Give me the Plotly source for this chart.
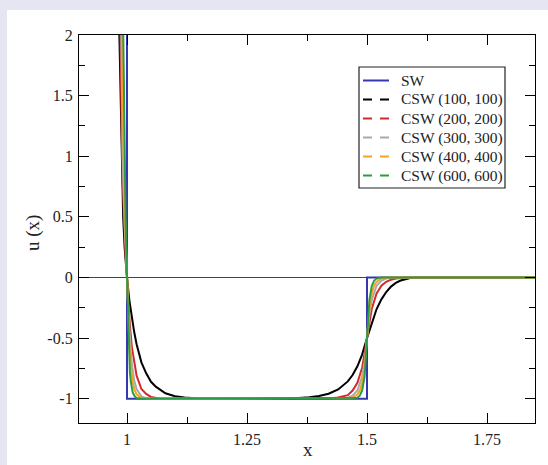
import plotly.graph_objects as go

# ---------------- data ----------------
sw_x = [1.0, 1.0, 1.5, 1.5, 1.85]
sw_y = [2.4, -1.0, -1.0, 0.0, 0.0]

csw100_x = [0.982, 0.984, 0.985, 0.987, 0.989, 0.992, 0.995, 0.998, 1.0,
            1.005, 1.01, 1.015, 1.02, 1.03, 1.04, 1.05, 1.06, 1.08, 1.10, 1.12, 1.15,
            1.35, 1.38, 1.40, 1.42, 1.44, 1.46, 1.47, 1.48, 1.49, 1.50,
            1.51, 1.52, 1.53, 1.54, 1.55, 1.56, 1.57, 1.58, 1.59, 1.60, 1.85]
csw100_y = [2.4, 2.0, 1.6, 1.2, 0.85, 0.5, 0.25, 0.08, 0.0,
            -0.19, -0.33, -0.45, -0.55, -0.70, -0.79, -0.86, -0.90, -0.955, -0.979, -0.99, -0.997,
            -0.995, -0.988, -0.978, -0.959, -0.923, -0.857, -0.804, -0.732, -0.634, -0.5,
            -0.37, -0.26, -0.18, -0.12, -0.075, -0.045, -0.025, -0.012, -0.005, 0.0, 0.0]

csw200_x = [0.985, 0.986, 0.987, 0.989, 0.991, 0.994, 0.997, 1.0,
            1.003, 1.006, 1.01, 1.015, 1.02, 1.03, 1.04, 1.05, 1.06, 1.07,
            1.42, 1.44, 1.46, 1.47, 1.48, 1.49, 1.50,
            1.51, 1.52, 1.53, 1.54, 1.55, 1.56, 1.58, 1.85]
csw200_y = [2.4, 2.0, 1.6, 1.2, 0.8, 0.45, 0.18, 0.0,
            -0.22, -0.39, -0.57, -0.71, -0.81, -0.92, -0.96, -0.985, -0.995, -1.0,
            -0.997, -0.99, -0.97, -0.932, -0.868, -0.743, -0.5,
            -0.257, -0.132, -0.068, -0.035, -0.018, -0.009, 0.0, 0.0]

csw300_x = [0.987, 0.988, 0.989, 0.991, 0.994, 0.997, 1.0,
            1.003, 1.006, 1.01, 1.015, 1.02, 1.03, 1.04, 1.05,
            1.46, 1.47, 1.48, 1.49, 1.495, 1.50,
            1.505, 1.51, 1.52, 1.53, 1.54, 1.55, 1.85]
csw300_y = [2.4, 2.0, 1.5, 1.0, 0.55, 0.2, 0.0,
            -0.31, -0.53, -0.71, -0.85, -0.92, -0.98, -0.995, -1.0,
            -0.991, -0.975, -0.932, -0.816, -0.697, -0.5,
            -0.303, -0.184, -0.068, -0.025, -0.009, 0.0, 0.0]

csw400_x = [0.989, 0.990, 0.991, 0.993, 0.995, 0.998, 1.0,
            1.002, 1.005, 1.008, 1.012, 1.016, 1.02, 1.03, 1.04,
            1.47, 1.48, 1.485, 1.49, 1.495, 1.50,
            1.505, 1.51, 1.515, 1.52, 1.53, 1.54, 1.85]
csw400_y = [2.4, 2.0, 1.5, 1.0, 0.6, 0.2, 0.0,
            -0.28, -0.565, -0.736, -0.865, -0.93, -0.964, -0.993, -1.0,
            -0.991, -0.965, -0.932, -0.868, -0.743, -0.5,
            -0.257, -0.132, -0.068, -0.035, -0.009, 0.0, 0.0]

csw600_x = [0.991, 0.992, 0.993, 0.995, 0.997, 0.999, 1.0,
            1.002, 1.004, 1.006, 1.008, 1.012, 1.016, 1.02, 1.03,
            1.48, 1.485, 1.49, 1.495, 1.50,
            1.505, 1.51, 1.515, 1.52, 1.53, 1.85]
csw600_y = [2.4, 2.0, 1.5, 1.0, 0.5, 0.15, 0.0,
            -0.39, -0.63, -0.78, -0.86, -0.95, -0.98, -0.993, -1.0,
            -0.991, -0.975, -0.932, -0.816, -0.5,
            -0.184, -0.068, -0.025, -0.009, 0.0, 0.0]

legend_names = ["SW", "CSW (100, 100)", "CSW (200, 200)", "CSW (300, 300)",
                "CSW (400, 400)", "CSW (600, 600)"]

x_tickvals = [1, 1.25, 1.5, 1.75]
x_ticktext = ["1", "1.25", "1.5", "1.75"]
x_minor = [1.125, 1.375, 1.625]
y_tickvals = [-1, -0.5, 0, 0.5, 1, 1.5, 2]
y_ticktext = ["-1", "-0.5", "0", "0.5", "1", "1.5", "2"]
y_minor = [-0.75, -0.25, 0.25, 0.75, 1.25, 1.75]

# ---------------- styles ----------------
W, H = 548, 465
ML, MR, MT, MB = 79, 13, 35, 42
PW, PH = W - ML - MR, H - MT - MB

def px_x(p):
    return (p - ML) / PW

def px_y(p):
    return (H - MB - p) / PH

colors = ["#3636b0", "#000000", "#d12b2b", "#a9a9a9", "#f3a427", "#2b9b45"]
dashes = ["solid", "9px,8px", "9px,8px", "9px,8px", "9px,8px", "9px,8px"]
serif = "Liberation Serif"
text_color = "#222"
lavender = "#e6e6f3"

fig = go.Figure()
series = [(sw_x, sw_y), (csw100_x, csw100_y), (csw200_x, csw200_y),
          (csw300_x, csw300_y), (csw400_x, csw400_y), (csw600_x, csw600_y)]
for (xs, ys), c, n in zip(series, colors, legend_names):
    fig.add_trace(go.Scatter(x=xs, y=ys, mode="lines", name=n, showlegend=False,
                             line=dict(color=c, width=2)))

axis_common = dict(showline=True, linecolor="black", linewidth=1.3, mirror="ticks",
                   ticks="inside", ticklen=10, tickwidth=1.3, tickcolor="black",
                   showgrid=False, tickmode="array", automargin=False,
                   tickfont=dict(family=serif, size=16, color=text_color),
                   ticklabelstandoff=2)

fig.update_xaxes(range=[0.9, 1.85], tickvals=x_tickvals, ticktext=x_ticktext,
                 zeroline=False,
                 minor=dict(tickmode="array", tickvals=x_minor, ticks="inside",
                            ticklen=6, tickwidth=1.3, tickcolor="black"),
                 **axis_common)
fig.update_yaxes(range=[-1.2, 2.0], tickvals=y_tickvals, ticktext=y_ticktext,
                 zeroline=True, zerolinecolor="#444", zerolinewidth=1.2,
                 minor=dict(tickmode="array", tickvals=y_minor, ticks="inside",
                            ticklen=6, tickwidth=1.3, tickcolor="black"),
                 **axis_common)

shapes = [
    dict(type="rect", xref="paper", yref="paper",
         x0=-0.2, x1=px_x(7), y0=-0.2, y1=1.2,
         fillcolor=lavender, line=dict(width=0), layer="below"),
    dict(type="rect", xref="paper", yref="paper",
         x0=-0.2, x1=1.1, y0=px_y(10), y1=1.2,
         fillcolor=lavender, line=dict(width=0), layer="below"),
    # legend box
    dict(type="rect", xref="paper", yref="paper",
         x0=px_x(359), x1=px_x(505), y0=px_y(188), y1=px_y(67),
         fillcolor="white", line=dict(color="#222", width=1.2), layer="above"),
]
annotations = [
    dict(text="x", xref="paper", yref="paper", x=px_x(308), y=px_y(449),
         xanchor="center", yanchor="middle", showarrow=False,
         font=dict(family=serif, size=19, color=text_color)),
    dict(text="u (x)", xref="paper", yref="paper", x=px_x(33), y=px_y(233),
         xanchor="center", yanchor="middle", showarrow=False, textangle=-90,
         font=dict(family=serif, size=19, color=text_color)),
]
row_y = [80.5, 99.5, 118.5, 137.5, 156.5, 175.5]
for i, (name, c, d) in enumerate(zip(legend_names, colors, dashes)):
    shapes.append(dict(type="line", xref="paper", yref="paper",
                       x0=px_x(363), x1=px_x(389), y0=px_y(row_y[i]), y1=px_y(row_y[i]),
                       line=dict(color=c, width=2, dash=d), layer="above"))
    annotations.append(dict(text=name, xref="paper", yref="paper",
                            x=px_x(399), y=px_y(row_y[i]), xanchor="left", yanchor="middle",
                            showarrow=False,
                            font=dict(family=serif, size=15.5, color=text_color)))

fig.update_layout(
    width=W, height=H, autosize=False,
    margin=dict(l=ML, r=MR, t=MT, b=MB, autoexpand=False),
    paper_bgcolor="white", plot_bgcolor="white",
    showlegend=False,
    shapes=shapes, annotations=annotations,
)

fig.write_html("out.html", config={"displayModeBar": False},
               post_script="document.body.style.margin='0px';")
